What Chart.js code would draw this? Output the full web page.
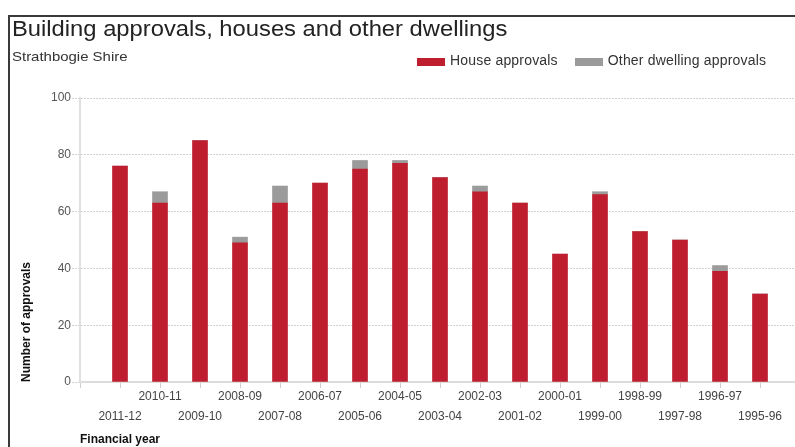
<!DOCTYPE html>
<html>
<head>
<meta charset="utf-8">
<script src="https://cdn.jsdelivr.net/npm/chart.js@4"></script>
<style>
  html, body { margin: 0; padding: 0; background: #fff; overflow: hidden; }
  body { width: 795px; height: 447px; position: relative; font-family: "Liberation Sans", Arial, sans-serif; }
  #frame { position: absolute; left: 8px; top: 15px; width: 900px; height: 600px; border: 2px solid #3a3a3a; box-sizing: border-box; }
  #chart { position: absolute; left: 0; top: 0; }
  .title { position: absolute; left: 12px; top: 18px; font-size: 22px; line-height: 22px; color: #222; white-space: nowrap; transform: scaleX(1.08); transform-origin: 0 0; }
  .subtitle { position: absolute; left: 12px; top: 50px; font-size: 13px; line-height: 13px; color: #333; white-space: nowrap; transform: scaleX(1.15); transform-origin: 0 0; }
  #legend { position: absolute; left: 417px; top: 53px; display: flex; font-size: 14px; line-height: 14px; letter-spacing: 0.18px; color: #333; white-space: nowrap; }
  #legend .item { display: flex; }
  #legend .item + .item { margin-left: 17px; }
  #legend .box { width: 28px; height: 8px; margin: 5px 5px 0 0; }
</style>
</head>
<body>
<div id="frame"></div>
<canvas id="chart" width="795" height="447"></canvas>
<div class="title">Building approvals, houses and other dwellings</div>
<div class="subtitle">Strathbogie Shire</div>
<div id="legend"></div>
<script>
// Financial years, newest first
const years = ['2011-12', '2010-11', '2009-10', '2008-09', '2007-08', '2006-07', '2005-06', '2004-05', '2003-04',
               '2002-03', '2001-02', '2000-01', '1999-00', '1998-99', '1997-98', '1996-97', '1995-96'];
const houses = [76, 63, 85, 49, 63, 70, 75, 77, 72, 67, 63, 45, 66, 53, 50, 39, 31];
const others = [0, 4, 0, 2, 6, 0, 3, 1, 0, 2, 0, 0, 1, 0, 0, 2, 0];
const yTicks = [0, 20, 40, 60, 80, 100];

const toPoints = arr => arr.map((v, i) => ({ x: i, y: v }));

const chart = new Chart(document.getElementById('chart').getContext('2d'), {
    type: 'bar',
    data: {
        datasets: [
            { label: 'House approvals', data: toPoints(houses), backgroundColor: '#be1e2d', barThickness: 15 },
            { label: 'Other dwelling approvals', data: toPoints(others), backgroundColor: '#9b9b9b', barThickness: 15 }
        ]
    },
    options: {
        responsive: false,
        animation: false,
        layout: { padding: { left: 12, top: 98, right: 0, bottom: 0 } },
        plugins: { legend: { display: false }, tooltip: { enabled: false } },
        scales: {
            x: {
                type: 'linear',
                stacked: true,
                offset: false,
                min: -1,
                max: 16.875,
                afterFit: s => { s.height = 65; },
                afterBuildTicks: s => { s.ticks = [-1, ...years.map((_, i) => i)].map(v => ({ value: v })); },
                grid: { offset: false, drawOnChartArea: false, drawTicks: true, tickLength: 6, color: '#cfcfcf' },
                border: { color: '#dcdcdc', width: 2 },
                ticks: {
                    autoSkip: false, maxRotation: 0, padding: -1,
                    color: '#444',
                    font: { family: 'Liberation Sans', size: 12, lineHeight: '20px' },
                    callback: v => {
                        if (v < 0 || !years[v]) return '';
                        return v % 2 === 0 ? ['', years[v]] : [years[v]];
                    }
                },
                title: {
                    display: true, text: 'Financial year', align: 'start', color: '#111',
                    font: { family: 'Liberation Sans', size: 12, weight: 'bold' },
                    padding: { top: 0, bottom: 0 }
                }
            },
            y: {
                stacked: true,
                min: 0,
                max: 100,
                afterFit: s => { s.width = 68; },
                afterBuildTicks: s => { s.ticks = yTicks.map(v => ({ value: v })); },
                grid: { color: '#d2d2d2', tickLength: 8, tickBorderDash: [2, 1] },
                border: { color: '#e0e0e0', width: 2, dash: [2, 1] },
                ticks: { padding: 1, color: '#555', font: { family: 'Liberation Sans', size: 12 } },
                title: {
                    display: true, text: 'Number of approvals', align: 'start', color: '#111',
                    font: { family: 'Liberation Sans', size: 12, weight: 'bold' },
                    padding: { top: 7, bottom: 0 }
                }
            }
        }
    }
});

// HTML legend built from the chart's own legend items
const legendEl = document.getElementById('legend');
Chart.defaults.plugins.legend.labels.generateLabels(chart).forEach(item => {
    const el = document.createElement('div');
    el.className = 'item';
    el.innerHTML = `<span class="box" style="background:${item.fillStyle}"></span><span>${item.text}</span>`;
    legendEl.appendChild(el);
});
</script>
</body>
</html>
